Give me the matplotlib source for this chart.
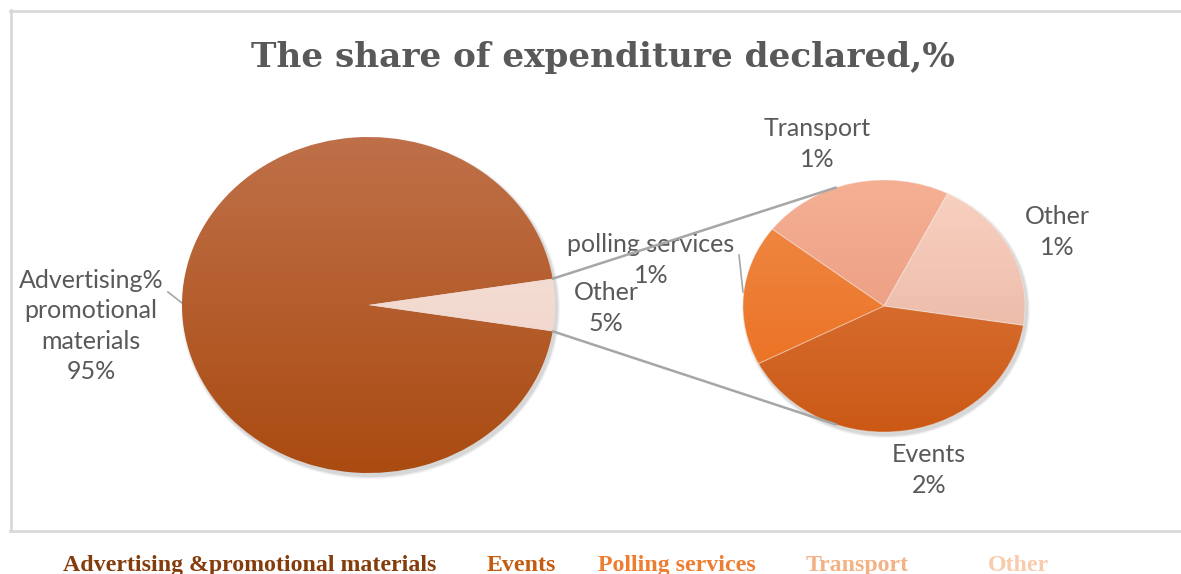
import numpy as np
import matplotlib.pyplot as plt
from matplotlib.colors import to_rgb
from matplotlib.patches import ConnectionPatch, Ellipse

# chart data
title = "The share of expenditure declared,%"
main_labels = ["Advertising%\npromotional\nmaterials", "Other"]
main_values = [95, 5]
sub_labels = ["Events", "polling services", "Transport", "Other"]
sub_values = [2.0, 0.9, 1.1, 1.0]
legend_labels = ["Advertising &promotional materials", "Events",
                 "Polling services", "Transport", "Other"]
legend_colors = ["#843C0C", "#C55A11", "#ED7D31", "#F4B183", "#F8CBAD"]

# (top, bottom) gradient colours per slice
main_shades = [("#BF7049", "#AA4B11"), ("#FBE7DF", "#EBCDC2")]
sub_shades = [("#E07D46", "#CB5915"), ("#F08C4A", "#EA6A18"),
              ("#F5B094", "#E69177"), ("#F9D2C2", "#E5AD9B")]

W, H = 1181, 574
fig = plt.figure(figsize=(W / 100, H / 100), dpi=100)

# overlay in pixel coordinates for frame, title, labels
bg = fig.add_axes([0, 0, 1, 1], zorder=0)
bg.set_xlim(0, W)
bg.set_ylim(H, 0)
bg.axis("off")


def px_axes(x0, y0, x1, y1):
    return fig.add_axes([x0 / W, 1 - y1 / H, (x1 - x0) / W, (y1 - y0) / H], zorder=2)


def shade(ax, wedge, top, bottom):
    t = np.linspace(0, 1, 256)[:, None]
    c0, c1 = np.array(to_rgb(top)), np.array(to_rgb(bottom))
    img = (c0 + (c1 - c0) * t)[:, None, :]
    im = ax.imshow(img, extent=(-1, 1, -1, 1), origin="upper", aspect="auto", zorder=1)
    im.set_clip_path(wedge)


def draw_pie(ax, values, shades, startangle, counterclock, edge):
    wedges, _ = ax.pie(values, startangle=startangle, counterclock=counterclock,
                       radius=1, colors=[s[1] for s in shades],
                       wedgeprops=dict(edgecolor=edge, linewidth=0.8))
    for w, (top, bottom) in zip(wedges, shades):
        shade(ax, w, top, bottom)
        w.set_zorder(2)
        w.set_facecolor("none")
    ax.set_aspect("auto")
    ax.set_xlim(-1.0, 1.0)
    ax.set_ylim(-1.0, 1.0)
    ax.axis("off")
    return wedges


# frame
fc = "#D9D9D9"
bg.plot([10, W], [10.5, 10.5], color=fc, lw=2)
bg.plot([10.5, 10.5], [10, 531], color=fc, lw=2)
bg.plot([10, W], [531, 531], color=fc, lw=2)

# soft shadows
for (x0, y0, x1, y1) in [(182, 137, 555, 473), (743, 180, 1025, 432)]:
    for k, a in [(6, 0.04), (4, 0.05), (2, 0.07)]:
        bg.add_patch(Ellipse(((x0 + x1) / 2 + 2, (y0 + y1) / 2 + 3),
                             x1 - x0 + k, y1 - y0 + k,
                             color="#000000", alpha=a, lw=0))

main_ax = px_axes(182, 137, 555, 473)
sub_ax = px_axes(743, 180, 1025, 432)

main_w = draw_pie(main_ax, main_values, main_shades, 9, True, "none")
sub_w = draw_pie(sub_ax, sub_values, sub_shades, -8.8, False, (1, 1, 1, 0.25))

# connector lines between the "Other" slice and the second pie
other = main_w[1]
for a_main, a_sub in [(other.theta2, 110), (other.theta1, 250)]:
    pa = (np.cos(np.radians(a_main)), np.sin(np.radians(a_main)))
    pb = (np.cos(np.radians(a_sub)), np.sin(np.radians(a_sub)))
    con = ConnectionPatch(xyA=pa, coordsA=main_ax.transData, xyB=pb,
                          coordsB=sub_ax.transData, color="#A6A6A6", lw=1.8, zorder=5)
    fig.add_artist(con)

# title
bg.text(603, 58, title, ha="center", va="center", family="DejaVu Serif",
        fontweight="bold", fontsize=24.7, color="#595959")

# data labels
lab = dict(family="Lato", fontsize=18, color="#595959", ha="center",
           va="center", linespacing=1.4, zorder=6)
bg.text(91, 326, f"{main_labels[0]}\n{main_values[0]:.0f}%", **lab)
bg.plot([168, 182], [292, 303], color="#A6A6A6", lw=1.2)
bg.text(606, 308, f"{main_labels[1]}\n{main_values[1]:.0f}%", **lab)

sub_pos = [(929, 470), (651, 260), (817, 144), (1057, 232)]
for name, v, (x, y) in zip(sub_labels, sub_values, sub_pos):
    t = bg.text(x, y, f"{name}\n{v:.0f}%", **lab)
    t.set_zorder(10)
bg.plot([739, 743], [255, 292], color="#A6A6A6", lw=1.2)

# legend row
leg_x = [63, 487, 598, 806, 988]
for name, c, x in zip(legend_labels, legend_colors, leg_x):
    bg.text(x, 571, name, ha="left", va="baseline", family="Liberation Serif",
            fontweight="bold", fontsize=17.2, color=c)

fig.savefig("out.png", dpi=100)
